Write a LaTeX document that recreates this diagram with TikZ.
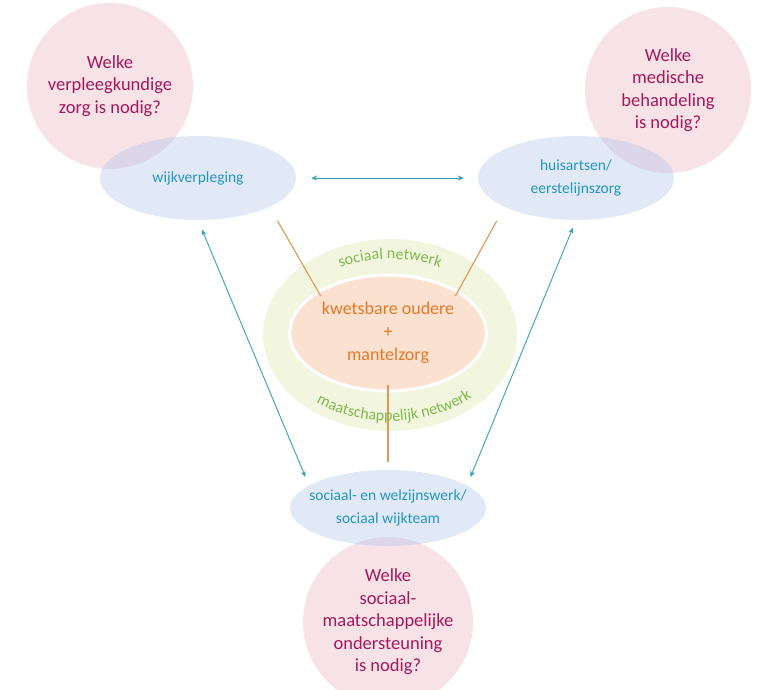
\documentclass[tikz,border=0pt]{standalone}
\usepackage{fontspec}
\setmainfont{Carlito}
\usetikzlibrary{shapes.geometric,arrows.meta,decorations.text}
\definecolor{qpink}{RGB}{233,178,192}
\definecolor{qtext}{RGB}{165,25,90}
\definecolor{pblue}{RGB}{180,200,235}
\definecolor{ptext}{RGB}{35,150,195}
\definecolor{ringgreen}{RGB}{242,246,222}
\definecolor{netgreen}{RGB}{130,185,80}
\definecolor{corefill}{RGB}{251,226,208}
\definecolor{coretext}{RGB}{228,120,40}
\definecolor{lorange}{RGB}{225,150,85}
\definecolor{lteal}{RGB}{55,160,185}

\begin{document}
\begin{tikzpicture}[
    x=1pt, y=1pt,
    question/.style={circle, fill=qpink, fill opacity=0.38, text opacity=1, text=qtext,
        minimum size=166pt, inner sep=0pt, align=center, font=\fontsize{18.5}{22.5}\selectfont},
    partner/.style={ellipse, fill=pblue, fill opacity=0.4, text opacity=1, text=ptext,
        minimum width=196pt, minimum height=84pt, inner sep=0pt, align=center,
        font=\fontsize{15.5}{23}\selectfont},
    link/.style={draw=lorange, line width=1.1pt},
    arr/.style={draw=lteal, line width=0.9pt,
        {Stealth[length=6pt,width=5pt]}-{Stealth[length=6pt,width=5pt]}},
    net/.style={decorate, decoration={text along path, text align=center,
        text={|\fontsize{16}{16}\selectfont\color{netgreen}|#1}}},
]
\useasboundingbox (0,0) rectangle (759,-689);
\clip (0,0) rectangle (759,-689);

% vragen
\node[question] (qzorg) at (110,-86) {Welke\\verpleegkundige\\zorg is nodig?};
\node[question] (qmed) at (668,-90) {Welke\\medische\\behandeling\\is nodig?};
\node[question, minimum size=170pt] (qsoc) at (388,-622) {Welke\\sociaal-\\maatschappelijke\\ondersteuning\\is nodig?};

% partners
\node[partner] (wijk) at (198,-178) {wijkverpleging};
\node[partner] (huis) at (576,-178) {huisartsen/\\eerstelijnszorg};
\node[partner, minimum height=76pt, inner xsep=-25pt, inner ysep=-5pt] (welzijn) at (388,-508)
    {sociaal- en welzijnswerk/\\sociaal wijkteam};

% netwerk rond de oudere
\node[ellipse, fill=ringgreen, minimum width=254pt, minimum height=192pt] (ring) at (390,-335) {};
\node[ellipse, fill=corefill, draw=white, line width=3pt, minimum width=176pt, minimum height=116pt,
    text=coretext, align=center, font=\fontsize{18}{23}\selectfont] (core) at (388,-333)
    {kwetsbare oudere\\+\\mantelzorg};

\draw[link, shorten <=16pt, shorten >=-6pt] (wijk.-22) -- (core.149);
\draw[link, shorten <=16pt, shorten >=-6pt] (huis.-158) -- (core.31);
\draw[link, shorten <=-8pt, shorten >=8pt] (core.south) -- (welzijn.north);

\path[net={sociaal netwerk}] (ring.center) ++(150:110 and 76)
    arc[start angle=150, end angle=30, x radius=110, y radius=76];
\path[net={maatschappelijk netwerk}] (ring.center) ++(205:119 and 86)
    arc[start angle=205, end angle=341, x radius=119, y radius=86];

% pijlen
\draw[arr, shorten <=15pt, shorten >=14pt] (wijk.east) -- (huis.west);
\draw[arr, shorten <=10pt, shorten >=9pt] (wijk.south) -- (welzijn.164);
\draw[arr, shorten <=8pt, shorten >=9pt] (huis.south) -- (welzijn.16);
\end{tikzpicture}
\end{document}
